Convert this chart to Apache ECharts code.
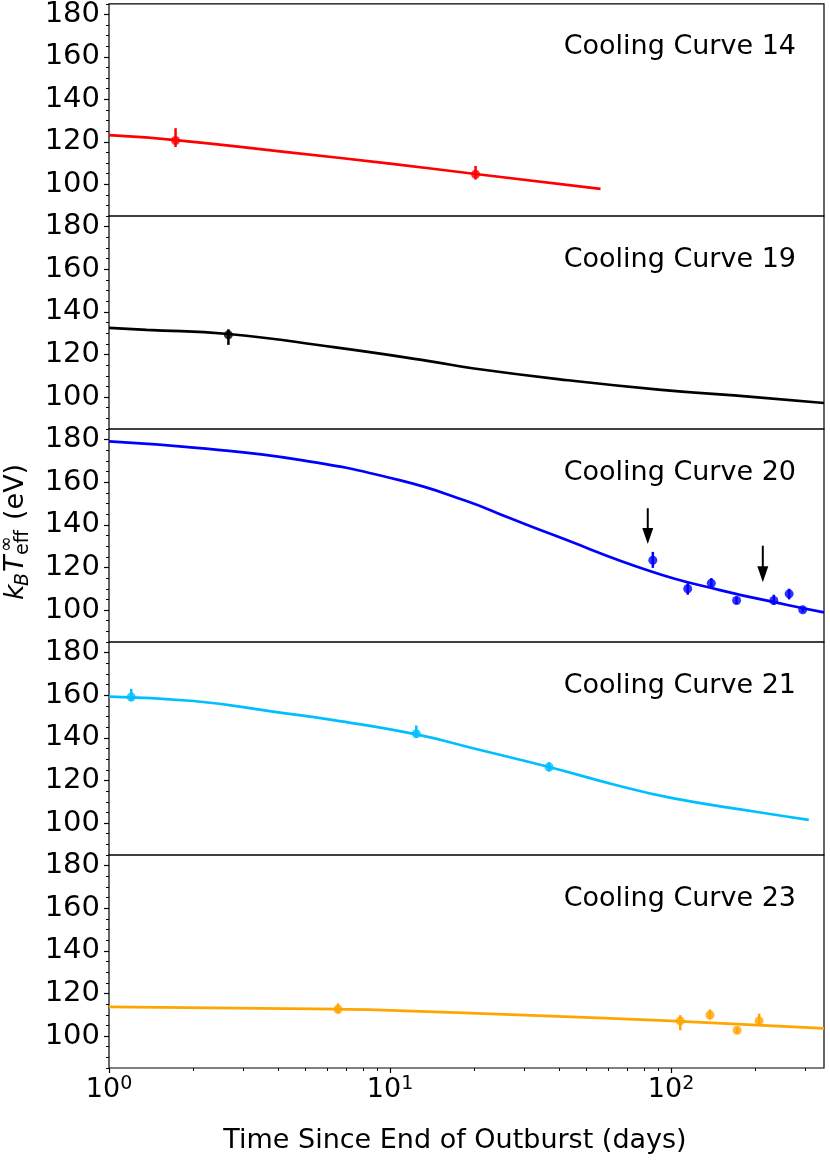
<!DOCTYPE html>
<html><head><meta charset="utf-8">
<script src="https://cdn.jsdelivr.net/npm/echarts@6/dist/echarts.min.js"></script>
<style>html,body{margin:0;padding:0;background:#fff}#c{width:830px;height:1160px}</style>
</head><body><div id="c"></div>
<script>
// ---- axis settings / ticks ----
const xMin = 1, xMax = 350;
const yMin = 85, yMax = 185;
const yMajorTicks = [100, 120, 140, 160, 180];
const yMinorTicks = [85, 90, 95, 105, 110, 115, 125, 130, 135, 145, 150, 155, 165, 170, 175, 185];
const xMajorTicks = [1, 10, 100];
const xMinorTicks = [2, 3, 4, 5, 6, 7, 8, 9, 20, 30, 40, 50, 60, 70, 80, 90, 200, 300];
const panelLabels = ['Cooling Curve 14', 'Cooling Curve 19', 'Cooling Curve 20', 'Cooling Curve 21', 'Cooling Curve 23'];
const xAxisTitle = 'Time Since End of Outburst (days)';

// ---- model curves ----
const model14X = [1, 1.725, 4.29, 10, 20.15, 56.1];
const model14Y = [123.1, 120.8, 115.1, 109.7, 104.8, 97.8];
const model19X = [1, 1.36, 2.66, 6.3, 13.6, 19.9, 42.9, 92.3, 198.6, 350];
const model19Y = [132.5, 131.5, 129.6, 123.4, 117.0, 113.4, 107.9, 103.4, 100.0, 97.2];
const model20X = [1, 2.1, 4.77, 10.8, 18.7, 26.5, 38, 85, 148, 257, 350];
const model20Y = [179.2, 176.0, 170.5, 161.0, 151.2, 143.3, 135.3, 118.1, 109.5, 102.5, 98.9];
const model21X = [1, 2, 4, 6.3, 12.4, 19.9, 36.8, 63, 100, 200, 309];
const model21Y = [159.4, 157.3, 152.0, 148.3, 141.6, 135.0, 126.3, 118.0, 111.8, 105.3, 101.5];
const model23X = [1, 6.53, 10, 30, 100, 350];
const model23Y = [113.7, 112.6, 112.1, 109.8, 107.1, 103.6];

// ---- observations (value, lower, upper) ----
const obs14X = [1.725, 20.15];
const obs14Y = [120.6, 104.7];
const obs14Lo = [117.5, 102.2];
const obs14Hi = [126.4, 108.6];
const obs19X = [2.66];
const obs19Y = [129.2];
const obs19Lo = [124.5];
const obs19Hi = [131.8];
const obs20X = [86.1, 114.6, 139, 171, 232, 263, 294];
const obs20Y = [123.4, 110.0, 112.6, 104.5, 104.5, 107.6, 100.1];
const obs20Lo = [119.8, 107.2, 110.3, 102.8, 102.5, 105.0, 99.0];
const obs20Hi = [127.3, 112.6, 115.0, 106.3, 107.2, 110.0, 101.3];
const obs21X = [1.2, 12.4, 36.8];
const obs21Y = [159.2, 141.9, 126.3];
const obs21Lo = [157.2, 140.0, 124.2];
const obs21Hi = [163.0, 145.8, 128.6];
const obs23X = [6.53, 107.8, 137.5, 171.8, 205.7];
const obs23Y = [112.6, 107.1, 109.9, 102.7, 107.1];
const obs23Lo = [110.6, 102.7, 107.8, 101.3, 105.7];
const obs23Hi = [115.3, 109.8, 112.5, 104.0, 110.5];

// ---- arrows in panel "Cooling Curve 20" ----
const arrowX = [82.6, 212];
const arrowFrom = [147.8, 130.2];
const arrowTo = [131, 113];

const panels = [
  { modelX: model14X, modelY: model14Y, obsX: obs14X, obsY: obs14Y, lo: obs14Lo, hi: obs14Hi },
  { modelX: model19X, modelY: model19Y, obsX: obs19X, obsY: obs19Y, lo: obs19Lo, hi: obs19Hi },
  { modelX: model20X, modelY: model20Y, obsX: obs20X, obsY: obs20Y, lo: obs20Lo, hi: obs20Hi },
  { modelX: model21X, modelY: model21Y, obsX: obs21X, obsY: obs21Y, lo: obs21Lo, hi: obs21Hi },
  { modelX: model23X, modelY: model23Y, obsX: obs23X, obsY: obs23Y, lo: obs23Lo, hi: obs23Hi }
];
const colors = ['#ff0000', '#000000', '#0000ff', '#00bfff', '#ffa500'];

const FONT = 'DejaVu Sans';
const top0 = 3, panelH = 213, gridLeft = 109, gridW = 715;
const grids = [], xAxes = [], yAxes = [], series = [], graphics = [];

panels.forEach((p, i) => {
  const top = top0 + panelH * i;
  const last = i === panels.length - 1;
  const color = colors[i];
  grids.push({ left: gridLeft, top: top, width: gridW, height: panelH, show: true,
    borderColor: '#000', borderWidth: 1.2, backgroundColor: 'transparent' });
  const xi = xAxes.length;
  xAxes.push({
    type: 'log', logBase: 10, min: xMin, max: xMax, gridIndex: i, position: 'bottom',
    axisLine: { show: false, onZero: false }, splitLine: { show: false },
    axisTick: { show: last, customValues: xMajorTicks, length: 5, lineStyle: { color: '#000', width: 1.2 } },
    axisLabel: {
      show: last, customValues: xMajorTicks, margin: 7,
      formatter: v => '{b|10}{s|' + Math.round(Math.log10(v)) + '}',
      rich: {
        b: { fontSize: 27, fontFamily: FONT, color: '#000', lineHeight: 30 },
        s: { fontSize: 19, fontFamily: FONT, color: '#000', lineHeight: 17, verticalAlign: 'top' }
      }
    }
  });
  if (last) {
    xAxes.push({
      type: 'log', logBase: 10, min: xMin, max: xMax, gridIndex: i, position: 'bottom',
      axisLine: { show: false, onZero: false }, splitLine: { show: false },
      axisTick: { show: true, customValues: xMinorTicks, length: 3, lineStyle: { color: '#000', width: 1 } },
      axisLabel: { show: false }
    });
  }
  const yi = yAxes.length;
  yAxes.push({
    type: 'value', min: yMin, max: yMax, gridIndex: i, position: 'left',
    axisLine: { show: false, onZero: false }, splitLine: { show: false },
    axisTick: { show: true, customValues: yMajorTicks, length: 5, lineStyle: { color: '#000', width: 1.2 } },
    axisLabel: { show: true, customValues: yMajorTicks, margin: 9,
      formatter: v => '{a|' + v + '}',
      rich: { a: { fontSize: 29, fontFamily: FONT, color: '#000', lineHeight: 32 } } }
  });
  yAxes.push({
    type: 'value', min: yMin, max: yMax, gridIndex: i, position: 'left',
    axisLine: { show: false, onZero: false }, splitLine: { show: false },
    axisTick: { show: true, customValues: yMinorTicks, length: 3, lineStyle: { color: '#000', width: 1 } },
    axisLabel: { show: false }
  });

  series.push({
    type: 'line', xAxisIndex: xi, yAxisIndex: yi, data: p.modelX.map((x, k) => [x, p.modelY[k]]),
    showSymbol: false, smooth: 0.5, lineStyle: { color: color, width: 2.7 }, z: 2, silent: true
  });
  series.push({
    type: 'custom', xAxisIndex: xi, yAxisIndex: yi, silent: true, z: 3,
    data: p.obsX.map((x, k) => [x, p.lo[k], p.hi[k]]), encode: { x: 0, y: [1, 2] },
    renderItem: (params, api) => {
      const a = api.coord([api.value(0), api.value(1)]);
      const b = api.coord([api.value(0), api.value(2)]);
      return { type: 'line', shape: { x1: a[0], y1: a[1], x2: b[0], y2: b[1] }, style: { stroke: color, lineWidth: 2.5 } };
    }
  });
  series.push({
    type: 'scatter', xAxisIndex: xi, yAxisIndex: yi, data: p.obsX.map((x, k) => [x, p.obsY[k]]),
    symbol: 'circle', symbolSize: 9, itemStyle: { color: color }, z: 4, silent: true
  });
  if (i === 2) {
    series.push({
      type: 'custom', xAxisIndex: xi, yAxisIndex: yi, silent: true, z: 5,
      data: arrowX.map((x, k) => [x, arrowFrom[k], arrowTo[k]]), encode: { x: 0, y: [1, 2] },
      renderItem: (params, api) => {
        const a = api.coord([api.value(0), api.value(1)]);
        const b = api.coord([api.value(0), api.value(2)]);
        const hl = 16, hw = 5.5;
        return { type: 'group', children: [
          { type: 'line', shape: { x1: a[0], y1: a[1], x2: b[0], y2: b[1] - hl + 2 }, style: { stroke: '#000', lineWidth: 2 } },
          { type: 'polygon', shape: { points: [[b[0] - hw, b[1] - hl], [b[0] + hw, b[1] - hl], [b[0], b[1]]] }, style: { fill: '#000' } }
        ] };
      }
    });
  }
  graphics.push({ type: 'text', x: 796, y: top + 43.7, silent: true,
    style: { text: panelLabels[i], fontSize: 27, fontFamily: FONT, fill: '#000',
      textAlign: 'right', align: 'right', textVerticalAlign: 'middle', verticalAlign: 'middle' } });
});

// x axis title
graphics.push({ type: 'text', x: 455, y: 1141.4, silent: true,
  style: { text: xAxisTitle, fontSize: 27, fontFamily: FONT, fill: '#000',
    textAlign: 'center', align: 'center', textVerticalAlign: 'middle', verticalAlign: 'middle' } });

// y axis title k_B T_eff^inf (eV), rotated
function piece(t, x, y, size, italic) {
  return { type: 'text', x: x, y: y, silent: true,
    style: { text: t, fontSize: size, fontFamily: FONT, fontStyle: italic ? 'italic' : 'normal', fill: '#000',
      textAlign: 'left', align: 'left', textVerticalAlign: 'middle', verticalAlign: 'middle' } };
}
graphics.push({ type: 'group', x: 25, y: 600, rotation: Math.PI / 2, silent: true, children: [
  piece('k', 0, -9.3, 27, true),
  piece('B', 14, -1.6, 19, true),
  piece('T', 28, -9.3, 27, true),
  piece('\u221e', 48, -17.6, 19, false),
  piece('eff', 45, -1.6, 19, false),
  piece('(eV)', 80, -9.3, 27, false)
] });

const chart = echarts.init(document.getElementById('c'), null, { renderer: 'canvas' });
chart.setOption({
  animation: false,
  backgroundColor: '#fff',
  grid: grids, xAxis: xAxes, yAxis: yAxes, series: series, graphic: graphics
});
</script></body></html>
